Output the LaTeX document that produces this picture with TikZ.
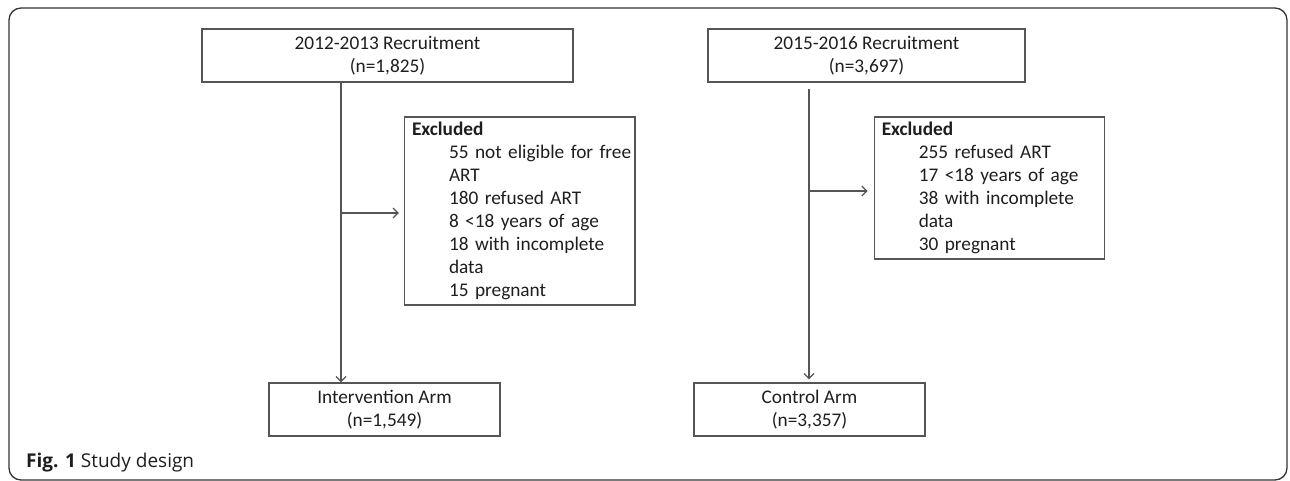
\documentclass[tikz,border=0pt]{standalone}
\usepackage{fontspec}
\setmainfont{Carlito}
\newfontfamily\capfont{Open Sans}
\usetikzlibrary{arrows.meta}
\definecolor{linegray}{HTML}{555555}
\definecolor{txt}{HTML}{1E1E1E}
\newcommand{\hd}{\hspace*{7.5pt}}
\newcommand{\ind}{\hspace*{44.5pt}}

\begin{document}
\begin{tikzpicture}[x=1pt,y=-1pt,
    box/.style={draw=linegray, line width=1.3pt, text=txt, minimum height=53pt, inner sep=0pt, align=center, font=\fontsize{19.3}{23}\selectfont},
    excl/.style={box, align=left, text width=230.5pt},
    arr/.style={draw=linegray, line width=1.2pt, -{Straight Barb[length=5pt,width=10pt]}}]
  \useasboundingbox (0,0) rectangle (1290,481);
  \draw[line width=1.3pt, draw=black!80, rounded corners=12pt] (9,8) rectangle (1287,480);
  % recruitment
  \node[box, minimum width=371pt] (rec1) at (387.5,55.5) {2012-2013 Recruitment\\(n=1,825)};
  \node[box, minimum width=317pt] (rec2) at (866.5,55.5) {2015-2016 Recruitment\\(n=3,697)};
  % exclusions
  \node[excl, minimum height=188pt] (excl1) at (519.75,211) {\hd\textbf{Excluded}\\
    \ind 55 not eligible for free\\ \ind ART\\ \ind 180 refused ART\\ \ind 8 <18 years of age\\
    \ind 18 with incomplete\\ \ind data\\ \ind 15 pregnant};
  \node[excl, minimum height=142pt] (excl2) at (989.5,188) {\hd\textbf{Excluded}\\
    \ind 255 refused ART\\ \ind 17 <18 years of age\\ \ind 38 with incomplete\\ \ind data\\ \ind 30 pregnant};
  % arms
  \node[box, minimum width=231pt] (arm1) at (384.5,409.5) {Intervention Arm\\(n=1,549)};
  \node[box, minimum width=231pt] (arm2) at (809.5,409.5) {Control Arm\\(n=3,357)};
  \coordinate (j1) at (341,213);
  \coordinate (j2) at (809,191);
  \draw[arr] (rec1.south -| j1) -- (arm1.north -| j1);
  \draw[arr, shorten >=5pt] (j1) -- (excl1.west |- j1);
  \draw[arr, shorten <=6pt, shorten >=3pt] (rec2.south -| j2) -- (arm2.north -| j2);
  \draw[arr, shorten >=6pt] (j2) -- (excl2.west |- j2);
  \node[anchor=west, inner sep=0pt, text=txt, font=\capfont\fontsize{19}{22}\selectfont] (cap) at (26,463) {\textbf{Fig. 1} Study design};
\end{tikzpicture}
\end{document}
